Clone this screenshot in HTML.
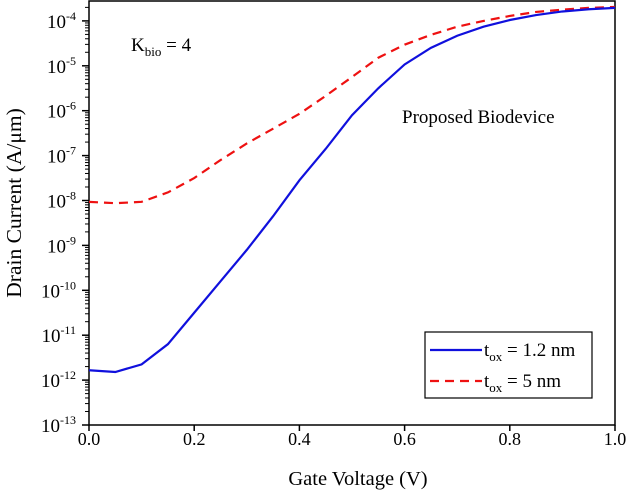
<!DOCTYPE html>
<html><head><meta charset="utf-8"><style>
body{margin:0;background:#fff}
svg{display:block;font-family:"Liberation Serif",serif}
</style></head><body>
<svg id="c" width="626" height="491"></svg>
<script>
const xVals=[0,0.05,0.1,0.15,0.2,0.25,0.3,0.35,0.4,0.45,0.5,0.55,0.6,0.65,0.7,0.75,0.8,0.85,0.9,0.95,1.0];
const blueLog=[-11.78,-11.82,-11.65,-11.2,-10.5,-9.8,-9.1,-8.35,-7.55,-6.85,-6.1,-5.5,-4.97,-4.6,-4.33,-4.13,-3.98,-3.87,-3.79,-3.74,-3.71];
const redLog=[-8.03,-8.06,-8.03,-7.82,-7.5,-7.1,-6.73,-6.4,-6.07,-5.67,-5.25,-4.82,-4.53,-4.31,-4.13,-4.0,-3.89,-3.8,-3.75,-3.71,-3.69];
const xTicks=[0,0.2,0.4,0.6,0.8,1.0];
const xTickLabels=["0.0","0.2","0.4","0.6","0.8","1.0"];
const yDecades=[-13,-12,-11,-10,-9,-8,-7,-6,-5,-4];
const NS="http://www.w3.org/2000/svg";
const svg=document.getElementById('c');
const L=89,R=615,B=425,T=1;
const X=v=>L+(R-L)*v;
const Y=lg=>B-(lg+13)*44.9;
function mk(tag,attrs,parent){const e=document.createElementNS(NS,tag);for(const k in attrs)e.setAttribute(k,attrs[k]);(parent||svg).appendChild(e);return e;}
const fr=mk('rect',{x:L,y:T,width:R-L,height:B-T,fill:'none',stroke:'#000','stroke-width':1.5});


xTicks.forEach((v,i)=>{
 const t=mk('line',{x1:X(v),x2:X(v),y1:B,y2:B+6,stroke:'#000','stroke-width':1.5});
 
 
 const tx=mk('text',{x:X(v),y:B+20,'text-anchor':'middle','font-size':18});
 tx.textContent=xTickLabels[i];
 
 
});
yDecades.forEach(d=>{
 const t=mk('line',{x1:L-7,x2:L,y1:Y(d),y2:Y(d),stroke:'#000','stroke-width':1.5});
 
 
 for(let m=2;m<=9;m++){const yy=Y(d+Math.log10(m));if(yy<T)break;
  const mt=mk('line',{x1:L-4,x2:L,y1:yy,y2:yy,stroke:'#000','stroke-width':1});
  
  }
 const tx=mk('text',{x:L-13,y:Y(d)+7,'text-anchor':'end','font-size':19});
 tx.innerHTML='10<tspan dy="-8" font-size="12">'+d+'</tspan>';
 
 
});
function line(vals,color,dash,name){
 const p=mk('polyline',{points:xVals.map((x,i)=>X(x)+','+Y(vals[i])).join(' '),fill:'none',stroke:color,'stroke-width':2.2,'stroke-dasharray':dash});
 
 
}
line(redLog,'#ee1111','9,6','series-tox-5nm');
line(blueLog,'#1010dd','none','series-tox-1-2nm');
const xt=mk('text',{x:358,y:485,'text-anchor':'middle','font-size':20.5});xt.textContent='Gate Voltage (V)';

const yt=mk('text',{x:0,y:0,'text-anchor':'middle','font-size':21.5,transform:'translate(21,203) rotate(-90)'});yt.textContent='Drain Current (A/μm)';

const kb=mk('text',{x:131,y:51,'font-size':19});kb.innerHTML='K<tspan dy="5" font-size="13">bio</tspan><tspan dy="-5"> = 4</tspan>';

const pb=mk('text',{x:402,y:123,'font-size':19});pb.textContent='Proposed Biodevice';

const lg=mk('g',{});
mk('rect',{x:425,y:332,width:167,height:66,fill:'#fff',stroke:'#000','stroke-width':1.2},lg);
mk('line',{x1:430,x2:482,y1:350,y2:350,stroke:'#1010dd','stroke-width':2.2},lg);
mk('line',{x1:430,x2:482,y1:381,y2:381,stroke:'#ee1111','stroke-width':2.2,'stroke-dasharray':'9,6'},lg);
const l1=mk('text',{x:484,y:356,'font-size':19},lg);l1.innerHTML='t<tspan dy="5" font-size="13">ox</tspan><tspan dy="-5"> = 1.2 nm</tspan>';

const l2=mk('text',{x:484,y:387,'font-size':19},lg);l2.innerHTML='t<tspan dy="5" font-size="13">ox</tspan><tspan dy="-5"> = 5 nm</tspan>';

</script>
</body></html>
